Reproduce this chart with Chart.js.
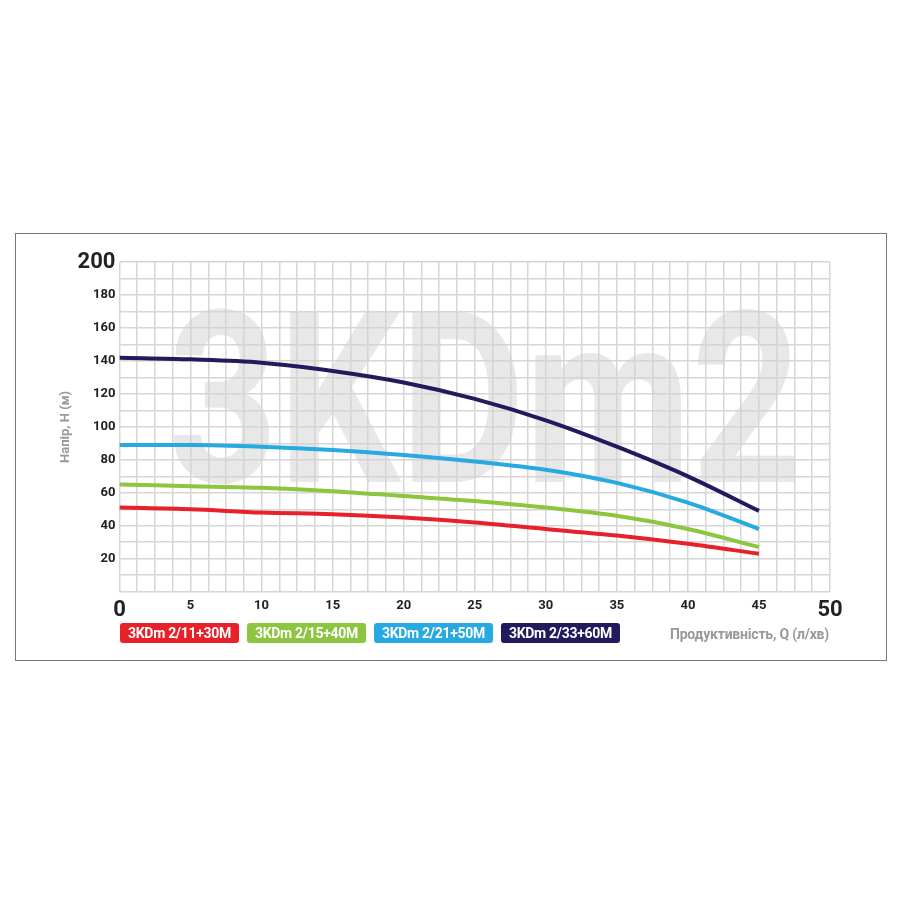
<!DOCTYPE html>
<html>
<head>
<meta charset="utf-8">
<script src="https://cdn.jsdelivr.net/npm/chart.js@4.4.1/dist/chart.umd.min.js"></script>
<style>
  body { margin: 0; background: #fff; font-family: Roboto, sans-serif; }
  #frame { position: absolute; left: 15px; top: 233px; width: 870px; height: 426px; border: 1.5px solid #777; }
  #wrap { position: absolute; left: 58px; top: 245px; width: 802px; height: 385px; }
  #legend { position: absolute; left: 120px; top: 623px; display: flex; gap: 8px; }
  #legend span { color: #fff; font-size: 14px; font-weight: bold; padding: 2px 8px; border-radius: 3px; letter-spacing: -0.3px; }
  #xtitle { position: absolute; right: 71px; top: 626px; color: #999; font-size: 14px; font-weight: bold; letter-spacing: -0.2px; }
</style>
</head>
<body>
<div id="frame"></div>
<div id="wrap"><canvas id="c"></canvas></div>
<div id="legend"></div>
<div id="xtitle">Продуктивність, Q (л/хв)</div>
<script>
var flow = [0, 5, 10, 15, 20, 25, 30, 35, 40, 45];
var names = ['3KDm 2/11+30M', '3KDm 2/15+40M', '3KDm 2/21+50M', '3KDm 2/33+60M'];
var colors = ['#e8202a', '#8cc63f', '#27a9e1', '#1f1b5c'];
var head30 = [51, 50, 48, 47, 45, 42, 38, 34, 29, 23];
var head40 = [65, 64, 63, 61, 58, 55, 51, 46, 38, 27];
var head50 = [89, 89, 88, 86, 83, 79, 74, 66, 54, 38];
var head60 = [142, 141, 139, 134, 127, 117, 104, 88, 70, 49];
var series = [head30, head40, head50, head60];

var legend = document.getElementById('legend');
names.forEach(function(n, i) {
  var s = document.createElement('span');
  s.textContent = n;
  s.style.background = colors[i];
  legend.appendChild(s);
});

var watermark = {
  id: 'watermark',
  beforeDatasetsDraw: function(chart) {
    var a = chart.chartArea, ctx = chart.ctx;
    ctx.save();
    ctx.fillStyle = 'rgba(210,210,210,0.5)';
    ctx.font = 'bold 240px Roboto, sans-serif';
    ctx.textBaseline = 'middle';
    ctx.textAlign = 'center';
    ctx.translate((a.left + a.right) / 2 + 10, chart.scales.y.getPixelForValue(103));
    ctx.scale(0.8, 1);
    ctx.fillText('3KDm2', 0, 0);
    ctx.restore();
  }
};

var fnt = function(big) {
  return { size: big ? 22 : 13, weight: 'bold', family: 'Roboto' };
};

new Chart(document.getElementById('c'), {
  type: 'line',
  data: {
    datasets: series.map(function(s, i) {
      return {
        label: names[i],
        data: s.map(function(v, j) { return { x: flow[j], y: v }; }),
        borderColor: colors[i],
        borderWidth: 4,
        pointRadius: 0,
        cubicInterpolationMode: 'monotone',
        fill: false
      };
    })
  },
  options: {
    responsive: true,
    maintainAspectRatio: false,
    animation: false,
    layout: { padding: { right: 30, top: 14 } },
    plugins: { legend: { display: false }, tooltip: { enabled: false } },
    scales: {
      x: {
        type: 'linear', min: 0, max: 50,
        grid: { color: '#d6d6d6', lineWidth: 1.5, drawTicks: false },
        border: { color: '#d6d6d6' },
        ticks: {
          stepSize: 1.25, autoSkip: false, maxRotation: 0, padding: 6, color: '#222',
          callback: function(v) { return v % 5 === 0 ? String(v) : ''; },
          font: function(c) { var v = c.tick && c.tick.value; return fnt(v === 0 || v === 50); }
        }
      },
      y: {
        min: 0, max: 200,
        grid: { color: '#d6d6d6', lineWidth: 1.5, drawTicks: false },
        border: { color: '#d6d6d6' },
        title: { display: true, text: 'Напір, Н (м)', color: '#999', font: { size: 13, weight: 'bold', family: 'Roboto' }, padding: 0 },
        ticks: {
          stepSize: 10, autoSkip: false, padding: 4, color: '#222',
          callback: function(v) { return (v % 20 === 0 && v !== 0) ? String(v) : ''; },
          font: function(c) { var v = c.tick && c.tick.value; return fnt(v === 200); }
        }
      }
    }
  },
  plugins: [watermark]
});
</script>
</body>
</html>
